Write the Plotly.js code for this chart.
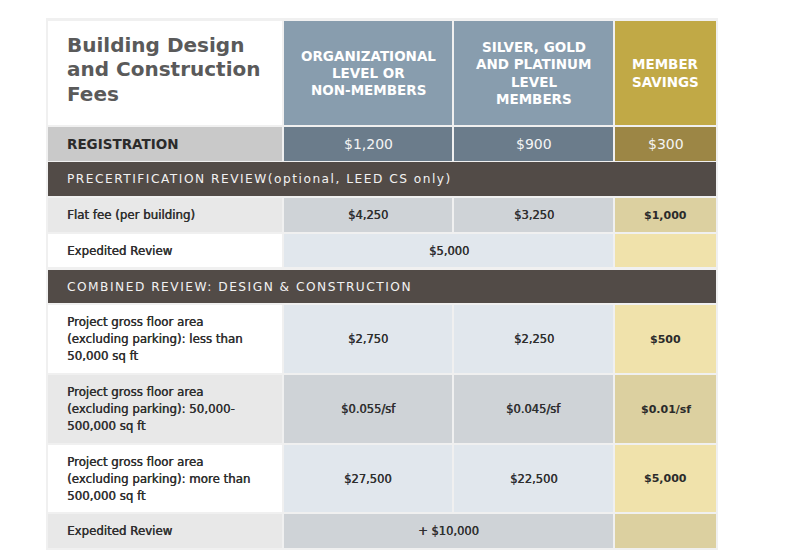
<!DOCTYPE html>
<html>
<head>
<meta charset="utf-8">
<script src="https://cdn.plot.ly/plotly-3.0.1.min.js"></script>
<style>
  html, body { margin: 0; padding: 0; background: #fff; }
  #chart { width: 789px; height: 550px; }
</style>
</head>
<body>
<div id="chart"></div>
<script>
// ---- table content ----
const tableTitle = ["Building Design", "and Construction", "Fees"];
const columnHeads = [
  ["ORGANIZATIONAL", "LEVEL OR", "NON-MEMBERS"],
  ["SILVER, GOLD", "AND PLATINUM", "LEVEL", "MEMBERS"],
  ["MEMBER", "SAVINGS"]
];
const registrationLabel = "REGISTRATION";
const registrationFees = ["$1,200", "$900", "$300"];

const sectionTitles = [
  "PRECERTIFICATION REVIEW(optional, LEED CS only)",
  "COMBINED REVIEW: DESIGN & CONSTRUCTION"
];

// rows in each section; memberFee null = merged with the org column
const precertLabels = [["Flat fee (per building)"], ["Expedited Review"]];
const precertOrgFees = ["$4,250", "$5,000"];
const precertMemberFees = ["$3,250", null];
const precertSavings = ["$1,000", ""];

const combinedLabels = [
  ["Project gross floor area", "(excluding parking): less than", "50,000 sq ft"],
  ["Project gross floor area", "(excluding parking): 50,000-", "500,000 sq ft"],
  ["Project gross floor area", "(excluding parking): more than", "500,000 sq ft"],
  ["Expedited Review"]
];
const combinedOrgFees = ["$2,750", "$0.055/sf", "$27,500", "+ $10,000"];
const combinedMemberFees = ["$2,250", "$0.045/sf", "$22,500", null];
const combinedSavings = ["$500", "$0.01/sf", "$5,000", ""];

// ---- layout grid (pixels) ----
const cols = [[48, 282], [284, 452], [454, 613], [615, 716]];
const headerRow = [21, 125];
const regRow = [127, 161];
const bandRows = [[162, 196], [270, 303]];
const precertRows = [[198, 232], [234, 267]];
const combinedRows = [[305, 373], [375, 443], [445, 512], [514, 548]];
const textInset = 17;

const FONT = "DejaVu Sans, Verdana, sans-serif";
const palette = {
  head: "#889dae",
  gold: "#c1a946",
  regLabel: "#c9c9c9",
  regValue: "#6b7c8b",
  regSave: "#9c8645",
  band: "#524b47",
  labelA: "#ffffff",
  labelB: "#e8e8e8",
  valueA: "#e1e7ed",
  valueB: "#cfd3d7",
  saveA: "#f0e2ab",
  saveB: "#dcd0a0",
  text: "#2e2e2e"
};
// a touch heavier than regular weight, like the source rendering
const semibold = "0.4px 0 0 #2e2e2e";

const shapes = [];
const annotations = [];

function cell(x0, x1, y0, y1, color) {
  shapes.push({
    type: "rect", xref: "x", yref: "y",
    x0: x0, x1: x1, y0: y0, y1: y1,
    fillcolor: color, line: { width: 0 }, layer: "below"
  });
}

function label(x, y, text, opts) {
  annotations.push(Object.assign({
    x: x, y: y, xref: "x", yref: "y", text: text,
    showarrow: false, xanchor: "center", yanchor: "middle",
    font: { family: FONT, size: 11.5, color: palette.text, shadow: semibold }
  }, opts || {}));
}

// stacked lines with a custom line step
function lines(x, yc, parts, step, opts) {
  const start = yc - (parts.length - 1) * step / 2;
  parts.forEach((p, i) => label(x, start + i * step, p, opts));
}

const mid = r => (r[0] + r[1]) / 2;

// light frame behind the whole table
cell(46, 718, 18, 550, "#f0f0f0");

// header row
cell(cols[0][0], cols[0][1], headerRow[0], headerRow[1], "#ffffff");
lines(cols[0][0] + textInset, mid(headerRow) - 4, tableTitle, 24.5, {
  xanchor: "left",
  font: { family: FONT, size: 20, color: "#5a5a5a", weight: "bold" }
});
columnHeads.forEach((head, i) => {
  const c = cols[i + 1];
  cell(c[0], c[1], headerRow[0], headerRow[1], i < 2 ? palette.head : palette.gold);
  lines(mid(c), 73, head, 17.3, {
    font: { family: FONT, size: 13.5, color: "#ffffff", weight: "bold" }
  });
});

// registration row
cell(cols[0][0], cols[0][1], regRow[0], regRow[1], palette.regLabel);
label(cols[0][0] + textInset, mid(regRow), registrationLabel, {
  xanchor: "left", font: { family: FONT, size: 13.5, color: "#2b2b2b", weight: "bold" }
});
registrationFees.forEach((fee, i) => {
  const c = cols[i + 1];
  cell(c[0], c[1], regRow[0], regRow[1], i < 2 ? palette.regValue : palette.regSave);
  label(mid(c), mid(regRow), fee, { font: { family: FONT, size: 14, color: "#f4f4f4" } });
});

// section bands
bandRows.forEach((r, i) => {
  cell(cols[0][0], cols[3][1], r[0], r[1], palette.band);
  label(cols[0][0] + textInset, mid(r), '<span style="letter-spacing:1.5px">' + sectionTitles[i] + '</span>', {
    xanchor: "left", font: { family: FONT, size: 12.2, color: "#f2f2f2" }
  });
});

function section(rows, labels, org, member, savings, shadeFirst) {
  rows.forEach((r, i) => {
    const dark = (i % 2 === 0) === shadeFirst;
    cell(cols[0][0], cols[0][1], r[0], r[1], dark ? palette.labelB : palette.labelA);
    lines(cols[0][0] + textInset, mid(r), labels[i], 17, {
      xanchor: "left",
      font: { family: FONT, size: 11.8, color: palette.text, shadow: semibold }
    });
    const valueColor = dark ? palette.valueB : palette.valueA;
    if (member[i] === null) {
      cell(cols[1][0], cols[2][1], r[0], r[1], valueColor);
      label((cols[1][0] + cols[2][1]) / 2, mid(r), org[i]);
    } else {
      cell(cols[1][0], cols[1][1], r[0], r[1], valueColor);
      cell(cols[2][0], cols[2][1], r[0], r[1], valueColor);
      label(mid(cols[1]), mid(r), org[i]);
      label(mid(cols[2]), mid(r), member[i]);
    }
    cell(cols[3][0], cols[3][1], r[0], r[1], dark ? palette.saveB : palette.saveA);
    if (savings[i]) {
      label(mid(cols[3]), mid(r), savings[i], {
        font: { family: FONT, size: 11, color: "#2b2b2b", weight: "bold" }
      });
    }
  });
}

section(precertRows, precertLabels, precertOrgFees, precertMemberFees, precertSavings, true);
section(combinedRows, combinedLabels, combinedOrgFees, combinedMemberFees, combinedSavings, false);

const layout = {
  width: 789,
  height: 550,
  margin: { t: 0, l: 0, r: 0, b: 0 },
  paper_bgcolor: "#ffffff",
  plot_bgcolor: "#ffffff",
  xaxis: { range: [0, 789], visible: false, fixedrange: true },
  yaxis: { range: [550, 0], visible: false, fixedrange: true },
  showlegend: false,
  shapes: shapes,
  annotations: annotations
};

Plotly.newPlot("chart", [], layout, { displayModeBar: false, responsive: false });
</script>
</body>
</html>
